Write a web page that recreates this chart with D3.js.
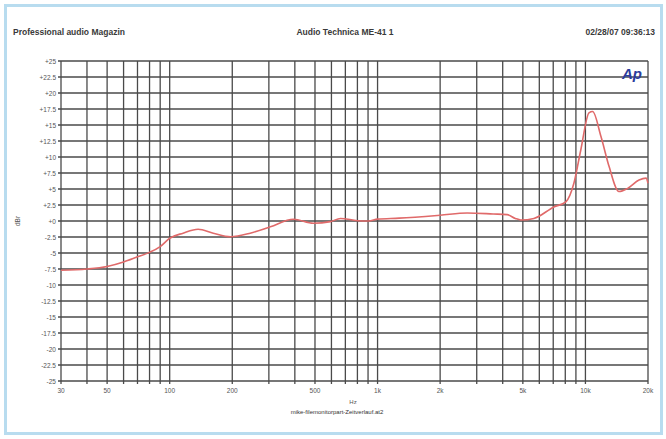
<!DOCTYPE html>
<html><head><meta charset="utf-8">
<script src="https://cdn.jsdelivr.net/npm/d3@7"></script>
<style>body{margin:0;background:#fff;}svg{display:block;font-family:"Liberation Sans",Arial,sans-serif;}</style>
</head><body>
<svg id="c" width="666" height="439"></svg>
<script>
const freqs = [30,40,50,60,70,80,90,100,116,137,162,196,244,305,394,491,593,663,801,905,1000,1270,2000,2700,3600,4200,4600,4890,5650,7050,8050,8800,9500,10400,10830,11880,13000,14500,15960,18100,19580,20000];
const levels = [-7.7,-7.5,-7.1,-6.4,-5.6,-4.9,-4.0,-2.7,-1.9,-1.3,-1.9,-2.45,-1.9,-0.9,0.27,-0.36,-0.1,0.4,0.05,0,0.3,0.45,0.9,1.25,1.1,1.0,0.4,0.16,0.4,2.2,3.0,5.9,11.1,16.9,17.1,13.2,8.5,4.6,5.1,6.4,6.7,5.9];
const yTicks = [25,22.5,20,17.5,15,12.5,10,7.5,5,2.5,0,-2.5,-5,-7.5,-10,-12.5,-15,-17.5,-20,-22.5,-25];
const xTickLabels = [[30,"30"],[50,"50"],[100,"100"],[200,"200"],[500,"500"],[1000,"1k"],[2000,"2k"],[5000,"5k"],[10000,"10k"],[20000,"20k"]];
const xGrid = [30,40,50,60,70,80,90,100,200,300,400,500,600,700,800,900,1000,2000,3000,4000,5000,6000,7000,8000,9000,10000,20000];

const svg = d3.select("#c");
const L=61,R=648,T=61,B=381;
const x = d3.scaleLog().domain([30,20000]).range([L,R]);
const y = d3.scaleLinear().domain([-25,25]).range([B,T]);

// outer frame
svg.append("rect").attr("x",5.5).attr("y",5.5).attr("width",656).attr("height",428)
  .attr("fill","none").attr("stroke","#b8dcef").attr("stroke-width",3);

// header
const hdr = [[13,"start","Professional audio Magazin"],[345,"middle","Audio Technica ME-41 1"],[655,"end","02/28/07 09:36:13"]];
svg.selectAll(".hd").data(hdr).join("text")
  .attr("x",d=>d[0]).attr("y",35).attr("text-anchor",d=>d[1])
  .attr("font-size",8.5).attr("font-weight","bold").attr("fill","#3a3a3a").text(d=>d[2]);

// grid
const g = svg.append("g");
g.selectAll(".hg").data(yTicks).join("line")
  .attr("x1",L-3).attr("x2",R).attr("y1",d=>y(d)).attr("y2",d=>y(d))
  .attr("stroke","#4a4a4a").attr("stroke-width",1.3);
g.selectAll(".vg").data(xGrid).join("line")
  .attr("x1",d=>x(d)).attr("x2",d=>x(d)).attr("y1",T).attr("y2",B+3)
  .attr("stroke","#4a4a4a").attr("stroke-width",1.3);

// y labels
svg.selectAll(".yl").data(yTicks).join("text")
  .attr("x",L-5).attr("y",d=>y(d)+2.5).attr("text-anchor","end")
  .attr("font-size",6.5).attr("fill","#555")
  .text(d=> d>0 ? "+"+d : (d===0 ? "+0" : String(d)));
// x labels
svg.selectAll(".xl").data(xTickLabels).join("text")
  .attr("x",d=>x(d[0])).attr("y",B+12).attr("text-anchor","middle")
  .attr("font-size",6.5).attr("fill","#555").text(d=>d[1]);

// axis titles
svg.append("text").attr("transform","translate(20,221) rotate(-90)").attr("text-anchor","middle")
  .attr("font-size",6.5).attr("fill","#555").text("dBr");
svg.append("text").attr("x",353).attr("y",404).attr("text-anchor","middle").attr("font-size",6).attr("fill","#555").text("Hz");
svg.append("text").attr("x",337).attr("y",414).attr("text-anchor","middle").attr("font-size",6).attr("fill","#333").text("mike-filemonitorpart-Zeitverlauf.at2");

// Ap logo
svg.append("text").attr("x",622).attr("y",79).attr("font-size",15).attr("font-weight","bold").attr("font-style","italic")
  .attr("fill","#2c3c9c").text("Ap");

// curve
const line = d3.line().x((d,i)=>x(freqs[i])).y(d=>y(d)).curve(d3.curveMonotoneX);
svg.append("path").datum(levels).attr("d",line).attr("fill","none")
  .attr("stroke","#e06a6a").attr("stroke-width",1.6);
</script>
</body></html>
